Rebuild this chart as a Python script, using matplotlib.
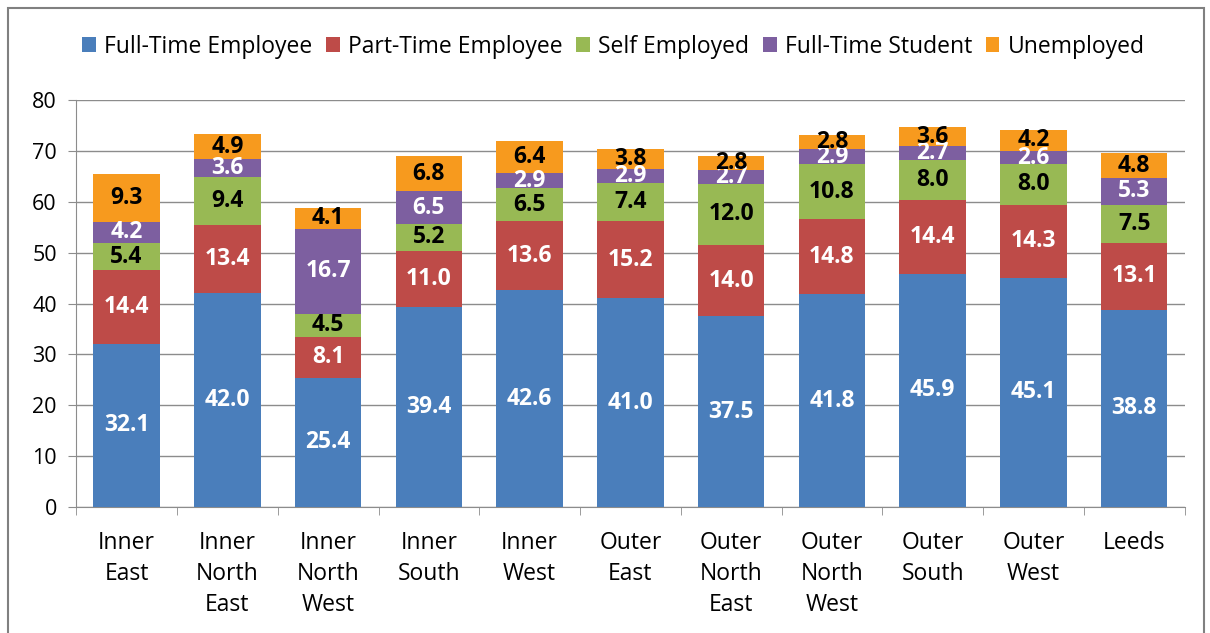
import numpy as np
import matplotlib.pyplot as plt
from matplotlib.patches import Rectangle

plt.rcParams['font.family'] = ['Open Sans', 'DejaVu Sans']

areas = ['Inner\nEast', 'Inner\nNorth\nEast', 'Inner\nNorth\nWest', 'Inner\nSouth',
         'Inner\nWest', 'Outer\nEast', 'Outer\nNorth\nEast', 'Outer\nNorth\nWest',
         'Outer\nSouth', 'Outer\nWest', 'Leeds']
series = ['Full-Time Employee', 'Part-Time Employee', 'Self Employed',
          'Full-Time Student', 'Unemployed']
full_time = [32.1, 42.0, 25.4, 39.4, 42.6, 41.0, 37.5, 41.8, 45.9, 45.1, 38.8]
part_time = [14.4, 13.4, 8.1, 11.0, 13.6, 15.2, 14.0, 14.8, 14.4, 14.3, 13.1]
self_emp = [5.4, 9.4, 4.5, 5.2, 6.5, 7.4, 12.0, 10.8, 8.0, 8.0, 7.5]
student = [4.2, 3.6, 16.7, 6.5, 2.9, 2.9, 2.7, 2.9, 2.7, 2.6, 5.3]
unemployed = [9.3, 4.9, 4.1, 6.8, 6.4, 3.8, 2.8, 2.8, 3.6, 4.2, 4.8]

colors = ['#4A7EBB', '#BE4B48', '#98B954', '#7D5FA0', '#F79A1E']
label_colors = ['white', 'white', 'black', 'white', 'black']

fig = plt.figure(figsize=(12.1, 6.33), dpi=100)
ax = fig.add_axes([0.063, 0.199, 0.916, 0.643])

x = np.arange(len(areas))
bottom = np.zeros(len(areas))
for vals, name, c, lc in zip([full_time, part_time, self_emp, student, unemployed],
                             series, colors, label_colors):
    vals = np.array(vals)
    ax.bar(x, vals, 0.66, bottom=bottom, color=c, label=name, zorder=3)
    for xi, b, v in zip(x, bottom, vals):
        ax.text(xi, b + v / 2, '%.1f' % v, ha='center', va='center', color=lc,
                fontsize=16.5, fontweight='bold', zorder=4)
    bottom += vals

ax.set_xlim(-0.5, len(areas) - 0.5)
ax.set_ylim(0, 80)
ax.set_yticks(range(0, 81, 10))
ax.yaxis.grid(True, color='#8c8c8c', linewidth=1, zorder=0)
ax.set_xticks(x)
ax.set_xticklabels(areas, fontsize=16.5, linespacing=1.4)
ax.set_xticks(np.arange(-0.5, len(areas), 1), minor=True)
ax.tick_params(axis='x', which='major', length=0, pad=17)
ax.tick_params(axis='x', which='minor', length=6, color='#8c8c8c')
ax.tick_params(axis='y', labelsize=15.5, length=6, color='#8c8c8c', pad=8)
for s in ['top', 'right']:
    ax.spines[s].set_visible(False)
for s in ['left', 'bottom']:
    ax.spines[s].set_color('#8c8c8c')

fig.legend(loc='center', bbox_to_anchor=(0.507, 0.926), ncol=5, frameon=False,
           fontsize=16.5, handlelength=0.6, handleheight=0.6, handletextpad=0.35,
           columnspacing=0.6)

fig.patches.append(Rectangle((8 / 1210, -0.01), 1196 / 1210, 1 - 8 / 633 + 0.01,
                             transform=fig.transFigure, fill=False,
                             edgecolor='#808080', linewidth=1.5))

fig.savefig('out.png', dpi=100)
